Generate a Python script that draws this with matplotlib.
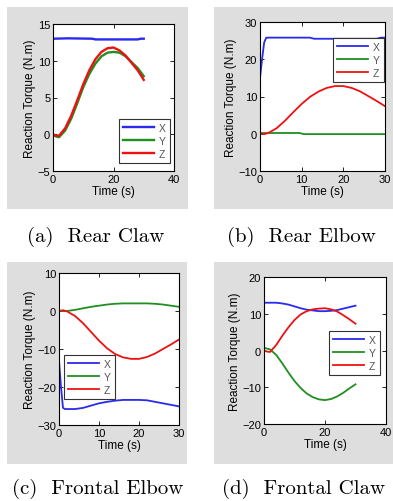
import matplotlib
matplotlib.use("Agg")
import matplotlib.pyplot as plt
from matplotlib.patches import Rectangle

plt.rcParams['font.family'] = ['Liberation Sans', 'DejaVu Sans']

# ---- data ----
t_std = [0, 1, 2, 4, 6, 8, 10, 12, 14, 16, 18, 20, 22, 24, 26, 28, 30]

# (a) Rear Claw
a_tx = [0, 5, 13, 14, 28, 29, 30]
a_x = [13.0, 13.05, 13.0, 12.9, 12.9, 13.0, 13.0]
a_y = [-0.1, -0.3, -0.4, 0.5, 2.1, 4.2, 6.4, 8.2, 9.6, 10.6, 11.1, 11.2, 11.1, 10.6, 9.8, 9.0, 7.9]
a_z = [0.0, -0.2, -0.2, 0.8, 2.5, 4.6, 6.8, 8.7, 10.2, 11.2, 11.7, 11.8, 11.4, 10.7, 9.7, 8.7, 7.4]

# (b) Rear Elbow
b_tx = [0, 0.5, 1, 1.5, 12, 13, 28, 29, 30]
b_x = [15.0, 20.0, 24.5, 25.8, 25.8, 25.5, 25.5, 25.8, 25.8]
b_ty = [0, 9.5, 10.5, 30]
b_y = [0.2, 0.2, -0.1, -0.1]
b_z = [0.0, -0.1, 0.2, 1.5, 3.5, 5.8, 8.0, 9.9, 11.3, 12.3, 12.8, 12.8, 12.3, 11.4, 10.1, 8.8, 7.4]

# (c) Frontal Elbow
c_tx = [0, 0.5, 1, 1.5, 4, 6, 8, 10, 12, 14, 16, 18, 20, 22, 24, 26, 28, 30]
c_x = [-13.0, -20.0, -25.5, -25.8, -25.8, -25.5, -24.9, -24.3, -23.9, -23.6, -23.4,
       -23.4, -23.4, -23.5, -23.9, -24.3, -24.7, -25.1]
c_y = [0.0, 0.0, 0.0, 0.3, 0.7, 1.1, 1.4, 1.7, 1.9, 2.0, 2.0, 2.0, 2.0, 1.9, 1.7, 1.4, 1.1]
c_z = [0.0, 0.2, -0.1, -1.3, -3.2, -5.5, -7.8, -9.8, -11.3, -12.2, -12.6, -12.6, -12.1,
       -11.2, -10.0, -8.8, -7.5]

# (d) Frontal Claw
d_x = [13.0, 13.0, 13.0, 13.0, 12.8, 12.5, 12.0, 11.5, 11.1, 10.9, 10.7, 10.7, 10.8,
       11.0, 11.4, 11.8, 12.2]
d_y = [0.8, 0.5, 0.3, -1.2, -3.5, -6.0, -8.3, -10.2, -11.7, -12.7, -13.3, -13.5, -13.2,
       -12.5, -11.5, -10.3, -9.2]
d_z = [0.0, -0.3, -0.4, 1.5, 4.0, 6.3, 8.3, 9.8, 10.7, 11.2, 11.4, 11.5, 11.2, 10.6,
       9.6, 8.5, 7.3]

W, H = 393, 502
fig = plt.figure(figsize=(W / 100, H / 100), dpi=100)
fig.patch.set_facecolor('white')

BLUE, GREEN, RED = '#2a2aee', '#1f8f1f', '#ee1111'


def px_rect(x0, y0, x1, y1):
    return [x0 / W, 1 - y1 / H, (x1 - x0) / W, (y1 - y0) / H]


def panel(gray, box, xlim, ylim, xticks, yticks, series, leg_box, caption, cap_xy, lw=1.3):
    gx0, gy0, gx1, gy1 = gray
    fig.patches.append(Rectangle((gx0 / W, 1 - gy1 / H), (gx1 - gx0) / W, (gy1 - gy0) / H,
                                 transform=fig.transFigure, facecolor='#dedede',
                                 edgecolor='none', zorder=-5))
    ax = fig.add_axes(px_rect(*box))
    ax.set_facecolor('white')
    for (t, v, c, lab) in series:
        ax.plot(t, v, color=c, lw=lw, label=lab)
    ax.set_xlim(*xlim)
    ax.set_ylim(*ylim)
    ax.set_xticks(xticks)
    ax.set_yticks(yticks)
    ax.tick_params(direction='in', top=True, right=True, length=3, width=0.6,
                   labelsize=8, pad=2)
    for s in ax.spines.values():
        s.set_linewidth(0.8)
    ax.set_xlabel('Time (s)', fontsize=8.5, labelpad=1)
    ax.set_ylabel('Reaction Torque (N.m)', fontsize=8.5, labelpad=1)
    lx0, ly0 = leg_box
    leg = ax.legend(loc='upper left', bbox_to_anchor=(lx0 / W, 1 - ly0 / H),
                    bbox_transform=fig.transFigure, fontsize=7.5, handlelength=3.0,
                    handletextpad=0.5, labelspacing=0.3, borderpad=0.35,
                    fancybox=False, framealpha=1, edgecolor='#333333',
                    borderaxespad=0, labelcolor='#555555')
    leg.get_frame().set_linewidth(0.8)
    fig.text(cap_xy[0] / W, 1 - cap_xy[1] / H, caption, ha='center', va='center',
             fontsize=15, family='cmr10')
    return ax


panel((7, 8, 188, 210), (53, 25, 174, 172), (0, 40), (-5, 15), [0, 20, 40],
      [-5, 0, 5, 10, 15],
      [(a_tx, a_x, BLUE, 'X'), (t_std, a_y, GREEN, 'Y'), (t_std, a_z, RED, 'Z')],
      (119, 120), '(a)  Rear Claw', (96, 237), lw=1.7)

panel((214, 8, 393, 210), (260, 23, 385, 172), (0, 30), (-10, 30), [0, 10, 20, 30],
      [-10, 0, 10, 20, 30],
      [(b_tx, b_x, BLUE, 'X'), (b_ty, b_y, GREEN, 'Y'), (t_std, b_z, RED, 'Z')],
      (333, 39), '(b)  Rear Elbow', (301, 237))

panel((7, 263, 187, 465), (59, 274, 179, 426), (0, 30), (-30, 10), [0, 10, 20, 30],
      [-30, -20, -10, 0, 10],
      [(c_tx, c_x, BLUE, 'X'), (t_std, c_y, GREEN, 'Y'), (t_std, c_z, RED, 'Z')],
      (64, 356), '(c)  Frontal Elbow', (98, 489))

panel((214, 263, 393, 465), (264, 278, 386, 425), (0, 40), (-20, 20), [0, 20, 40],
      [-20, -10, 0, 10, 20],
      [(t_std, d_x, BLUE, 'X'), (t_std, d_y, GREEN, 'Y'), (t_std, d_z, RED, 'Z')],
      (329, 332), '(d)  Frontal Claw', (303, 489))

fig.savefig('out.png', dpi=100)
